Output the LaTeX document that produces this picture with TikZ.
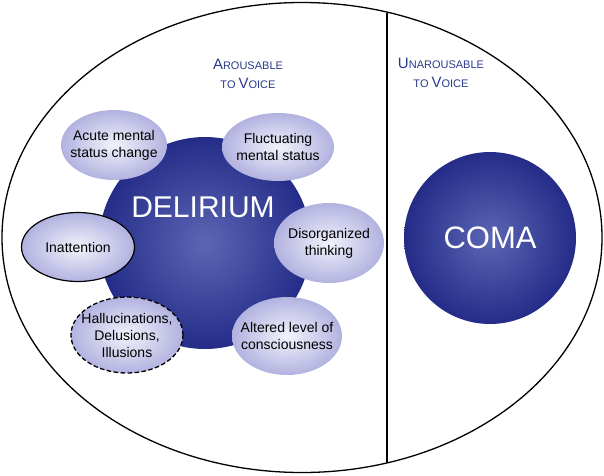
\documentclass[tikz,border=0pt]{standalone}
\usepackage{fontspec}
\setmainfont{Liberation Sans}
\usetikzlibrary{shapes.geometric}
\definecolor{deepblue}{RGB}{36,44,136}
\definecolor{midblue}{RGB}{92,102,180}
\definecolor{lavender}{RGB}{178,178,224}
\definecolor{paleviolet}{RGB}{242,242,252}
\definecolor{capblue}{RGB}{40,58,140}
\newcommand\fakesc[2]{{\fontsize{15}{19}\selectfont #1}{\fontsize{11}{19}\selectfont #2}}
\tikzset{
  sign/.style={ellipse, inner color=paleviolet, outer color=lavender,
    minimum width=110pt, minimum height=74pt, inner sep=-12pt, align=center,
    font=\fontsize{14}{17}\selectfont},
  ball/.style={circle, inner color=midblue, outer color=deepblue, inner sep=0pt},
  state/.style={capblue, align=center, inner sep=0pt, font=\fontsize{15}{19}\selectfont}
}
\begin{document}
\begin{tikzpicture}[x=1pt,y=-1pt]
    \useasboundingbox (0,0) rectangle (604,475);
    \draw[line width=1.3pt] (302,237.5) ellipse (300pt and 235pt);
    \draw[line width=1.3pt] (387,12.5) -- (387,462.5);
    \node[state] (arousable) at (248,74) {\fakesc{A}{ROUSABLE}\\\fakesc{}{TO }\fakesc{V}{OICE}};
    \node[state] (unarousable) at (441,73) {\fakesc{U}{NAROUSABLE}\\\fakesc{}{TO }\fakesc{V}{OICE}};
    \node[ball, minimum size=212pt] (delirium) at (205,243) {};
    \node[white, font=\fontsize{30}{30}\selectfont] (deltext) at (203,207) {DELIRIUM};
    \node[ball, minimum size=172pt, white, font=\fontsize{31}{31}\selectfont] (coma) at (490,238) {COMA};
    \node[sign, minimum width=106pt, minimum height=70pt] (acute) at (114,145) {Acute mental\\status change};
    \node[sign, minimum width=112pt, minimum height=68pt] (fluct) at (278,147) {Fluctuating\\mental status};
    \node[sign, minimum height=80pt] (disorg) at (329,243) {Disorganized\\thinking};
    \node[sign, draw, line width=1.2pt, minimum width=113pt, minimum height=69pt] (inatt) at (78,247) {Inattention};
    \node[sign, draw, dash pattern=on 4.5pt off 2.5pt, line width=1.3pt, minimum width=112pt, minimum height=76pt] (halluc) at (127,335) {Hallucinations,\\Delusions,\\Illusions};
    \node[sign, minimum height=78pt] (altered) at (287,336) {Altered level of\\consciousness};
\end{tikzpicture}
\end{document}
